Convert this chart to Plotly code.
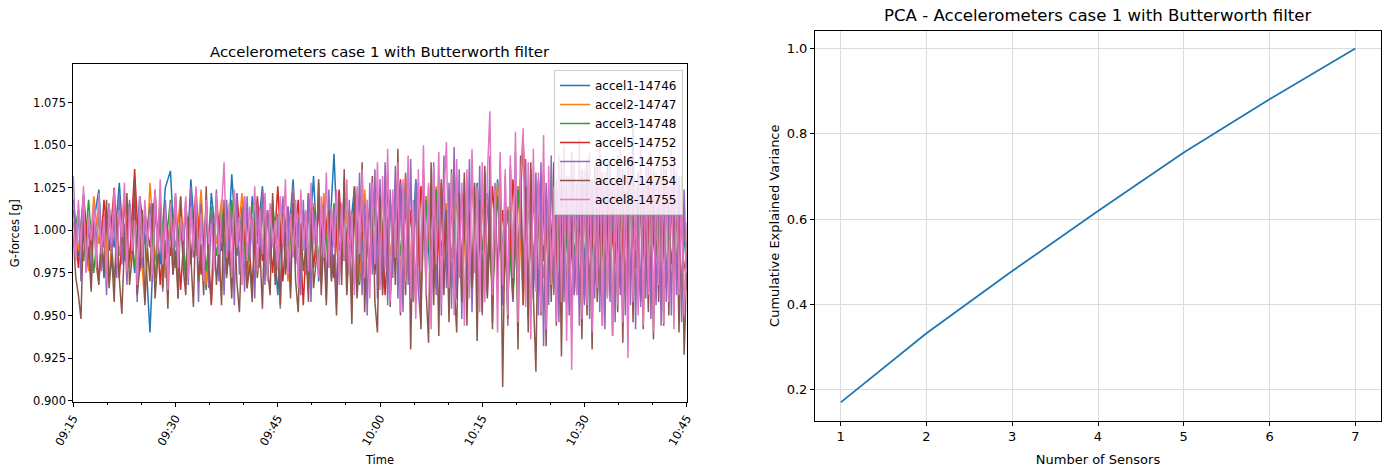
import pandas as pd
import plotly.graph_objects as go

# ---------------- data ----------------
series_names = ["accel1-14746", "accel2-14747", "accel3-14748", "accel5-14752",
                "accel6-14753", "accel7-14754", "accel8-14755"]
series_colors = ["#1f77b4", "#ff7f0e", "#2ca02c", "#d62728", "#9467bd", "#8c564b", "#e377c2"]

time_start = "2023-01-01 09:15:00"
time_end = "2023-01-01 10:45:00"

accel1 = [1.018, 0.985, 1.022, 0.978, 1.005, 1.024, 0.972, 1.010, 0.990, 1.028,
          0.982, 1.015, 0.975, 1.020, 0.995, 0.940, 1.012, 0.980, 1.025, 1.035,
          0.978, 1.008, 0.970, 1.030, 0.988, 1.016, 0.965, 1.022, 0.992, 1.010,
          0.976, 1.033, 0.985, 1.012, 0.968, 1.020, 0.996, 1.026, 0.974, 1.008,
          0.962, 1.018, 0.990, 1.030, 0.975, 1.012, 0.985, 1.032, 0.970, 1.015,
          0.988, 1.045, 0.972, 1.020, 0.995, 1.025, 0.968, 1.010, 0.982, 1.026,
          0.975, 1.018, 0.962, 1.028, 0.985, 1.012, 0.965, 1.030, 0.978, 1.020,
          0.960, 1.025, 0.988, 1.015, 0.970, 1.032, 0.982, 1.010, 0.964, 1.028,
          0.975, 1.022, 0.968, 1.030, 0.990, 1.012, 0.962, 1.026, 0.980, 1.018,
          0.966, 1.030, 0.985, 1.014, 0.970, 1.028, 0.978, 1.010, 0.962, 1.024,
          0.982, 1.030, 0.968, 1.016, 0.976, 1.026, 0.988, 1.012, 0.964, 1.030,
          0.978, 1.018, 0.970, 1.028, 0.985, 1.010, 0.966, 1.022, 0.980, 1.014,
          0.978]

accel2 = [1.005, 0.988, 1.015, 0.976, 1.020, 0.992, 1.010, 0.970, 1.018, 0.985,
          1.022, 0.978, 1.012, 0.995, 0.958, 1.028, 0.982, 1.016, 0.972, 1.008,
          0.990, 1.020, 0.975, 1.012, 0.985, 1.024, 0.968, 1.010, 0.992, 1.018,
          0.974, 1.014, 0.988, 1.022, 0.966, 1.008, 0.980, 1.020, 0.972, 1.012,
          0.984, 1.018, 0.970, 1.024, 0.990, 1.010, 0.965, 1.016, 0.978, 1.022,
          0.986, 1.012, 0.974, 1.020, 0.992, 1.015, 0.970, 1.024, 0.982, 1.010,
          0.968, 1.022, 0.985, 1.015, 0.972, 1.033, 0.980, 1.012, 0.962, 1.020,
          0.988, 1.026, 0.970, 1.016, 0.984, 1.030, 0.966, 1.012, 0.978, 1.024,
          0.990, 1.018, 0.964, 1.028, 0.982, 1.014, 0.970, 1.026, 0.956, 1.018,
          0.985, 1.022, 0.972, 1.010, 0.964, 1.028, 0.988, 1.016, 0.975, 1.024,
          0.958, 1.020, 0.984, 1.030, 0.970, 1.012, 0.980, 1.026, 0.966, 1.018,
          0.990, 1.022, 0.972, 1.015, 0.984, 1.028, 0.968, 1.012, 0.978, 1.020,
          0.985]

accel3 = [0.995, 1.012, 0.982, 1.018, 0.975, 1.008, 0.990, 1.015, 0.970, 1.010,
          0.985, 1.016, 0.978, 1.005, 0.992, 1.014, 0.972, 1.012, 0.988, 1.018,
          0.980, 1.010, 0.975, 1.016, 0.990, 1.008, 0.976, 1.014, 0.985, 1.012,
          0.972, 1.018, 0.986, 1.008, 0.978, 1.015, 0.992, 1.010, 0.974, 1.016,
          0.985, 1.012, 0.976, 1.018, 0.990, 1.008, 0.972, 1.014, 0.984, 1.010,
          0.978, 1.016, 0.988, 1.012, 0.975, 1.018, 0.990, 1.008, 0.976, 1.014,
          0.982, 1.020, 0.970, 1.012, 0.986, 1.022, 0.968, 1.015, 0.980, 1.018,
          0.974, 1.024, 0.985, 1.010, 0.966, 1.020, 0.980, 1.014, 0.972, 1.022,
          0.988, 1.016, 0.962, 1.020, 0.978, 1.012, 0.958, 1.024, 0.984, 1.018,
          0.970, 1.014, 0.982, 1.022, 0.966, 1.016, 0.976, 1.020, 0.986, 1.012,
          0.972, 1.024, 0.980, 1.014, 0.968, 1.018, 0.984, 1.010, 0.974, 1.022,
          0.982, 1.016, 0.970, 1.020, 0.986, 1.012, 0.976, 1.018, 0.980, 1.014,
          0.990]

accel5 = [1.012, 0.978, 1.020, 0.985, 1.008, 0.970, 1.018, 0.988, 1.025, 0.972,
          1.015, 0.982, 1.036, 0.976, 1.010, 0.990, 1.022, 0.968, 1.012, 0.985,
          1.020, 0.965, 1.016, 0.980, 1.024, 0.974, 1.010, 0.956, 1.018, 0.988,
          1.014, 0.970, 1.022, 0.984, 1.008, 0.966, 1.020, 0.982, 1.012, 0.975,
          1.026, 0.970, 1.014, 0.985, 1.018, 0.956, 1.022, 0.978, 1.010, 0.988,
          1.016, 0.972, 1.024, 0.982, 1.012, 0.968, 1.020, 0.986, 1.014, 0.974,
          1.024, 0.962, 1.018, 0.980, 1.030, 0.970, 1.012, 0.958, 1.026, 0.984,
          1.016, 0.966, 1.028, 0.976, 1.014, 0.960, 1.022, 0.982, 1.032, 0.970,
          1.018, 0.964, 1.026, 0.978, 1.012, 0.960, 1.030, 0.984, 1.055, 0.968,
          1.020, 0.962, 1.032, 0.976, 1.016, 0.958, 1.028, 0.980, 1.014, 0.965,
          1.026, 0.970, 1.018, 0.962, 1.030, 0.978, 1.014, 0.966, 1.024, 0.972,
          1.020, 0.958, 1.028, 0.976, 1.012, 0.964, 1.026, 0.980, 1.018, 0.970,
          0.986]

accel6 = [1.032, 0.988, 1.012, 0.970, 1.018, 0.982, 1.006, 0.966, 1.014, 0.990,
          1.020, 0.976, 1.008, 0.962, 1.016, 0.984, 1.010, 0.972, 1.022, 0.980,
          1.004, 0.968, 1.018, 0.986, 1.012, 0.958, 1.020, 0.978, 1.008, 0.990,
          1.016, 0.970, 1.024, 0.982, 1.010, 0.964, 1.018, 0.986, 1.006, 0.974,
          1.022, 0.960, 1.014, 0.980, 1.018, 0.968, 1.026, 0.984, 1.010, 0.958,
          1.016, 0.976, 1.020, 0.966, 1.012, 0.988, 1.024, 0.970, 1.008, 0.962,
          1.018, 0.980, 1.010, 0.956, 1.022, 0.974, 1.014, 0.964, 1.020, 0.984,
          1.008, 0.960, 1.016, 0.978, 1.024, 0.968, 1.012, 0.986, 1.018, 0.972,
          1.010, 0.954, 1.020, 0.976, 1.014, 0.966, 1.026, 0.980, 1.008, 0.962,
          1.018, 0.974, 1.022, 0.958, 1.012, 0.984, 1.028, 0.968, 1.016, 0.960,
          1.024, 0.972, 1.014, 0.956, 1.020, 0.980, 1.030, 0.964, 1.018, 0.958,
          1.026, 0.970, 1.034, 0.962, 1.016, 0.950, 1.028, 0.974, 1.036, 0.960,
          1.030, 0.966, 1.040, 0.956, 1.024, 0.972, 1.038, 0.960, 1.028, 0.952,
          1.034, 0.968, 1.042, 0.958, 1.030, 0.964, 0.945, 1.036, 0.970, 1.026,
          0.956, 1.040, 0.962, 1.032, 0.950, 1.044, 0.966, 1.028, 0.954, 1.049,
          0.960, 1.036, 0.948, 1.030, 0.970, 1.042, 0.952, 1.026, 0.964, 1.038,
          0.950, 1.034, 0.962, 1.044, 0.946, 1.028, 0.966, 1.040, 0.956, 1.032,
          0.944, 1.038, 0.958, 1.046, 0.952, 1.030, 0.964, 1.042, 0.948, 1.036,
          0.960, 1.034, 0.950, 1.040, 0.932, 1.028, 0.956, 1.044, 0.962, 1.030,
          0.946, 1.040, 0.958, 1.032, 0.950, 1.046, 0.962, 1.028, 0.944, 1.036,
          0.956, 1.042, 0.948, 1.030, 0.960, 1.038, 0.952, 1.034, 0.942, 1.040,
          0.958, 1.030, 0.946, 1.044, 0.962, 1.036, 0.950, 1.040, 0.956, 1.063,
          0.942, 1.034, 0.955, 1.028, 0.960, 1.042, 0.948, 1.036, 0.956, 1.030,
          0.944, 1.040, 0.958, 1.026, 0.950, 1.038, 0.962, 1.032, 0.946, 1.024,
          0.965]

accel7 = [0.995, 0.972, 0.962, 0.948, 1.006, 0.976, 0.990, 0.964, 1.012, 0.980,
          0.968, 0.998, 0.975, 1.018, 0.966, 0.986, 0.958, 1.008, 0.972, 0.951,
          0.992, 1.022, 0.968, 0.984, 1.030, 0.962, 0.978, 1.012, 0.956, 0.990,
          0.970, 1.016, 0.960, 0.982, 1.024, 0.966, 0.994, 0.954, 1.010, 0.974,
          0.988, 0.960, 1.020, 0.978, 0.962, 1.008, 0.984, 0.955, 1.014, 0.970,
          0.992, 0.962, 1.026, 0.976, 0.958, 1.004, 0.968, 0.990, 0.956, 1.018,
          0.974, 0.988, 0.960, 1.012, 0.970, 0.952, 0.996, 1.020, 0.966, 0.980,
          0.958, 1.006, 0.972, 0.990, 0.954, 1.014, 0.978, 0.962, 1.022, 0.968,
          0.986, 0.956, 1.010, 0.974, 0.994, 0.960, 1.016, 0.970, 0.952, 1.004,
          0.976, 0.990, 0.958, 1.024, 0.966, 0.982, 1.030, 0.962, 0.994, 0.956,
          1.012, 0.970, 0.986, 0.950, 1.020, 0.968, 1.036, 0.962, 0.992, 0.945,
          1.026, 0.960, 0.984, 1.040, 0.952, 1.004, 0.968, 1.032, 0.958, 0.940,
          1.020, 0.962, 0.990, 1.034, 0.955, 1.016, 0.968, 1.048, 0.950, 1.024,
          0.962, 1.036, 0.930, 1.008, 0.958, 1.028, 0.942, 1.032, 0.966, 0.934,
          1.040, 0.956, 1.018, 0.938, 1.030, 0.962, 1.012, 0.946, 1.036, 0.970,
          0.940, 1.022, 0.958, 1.034, 0.944, 1.010, 0.966, 1.028, 0.935, 1.018,
          0.952, 1.038, 0.960, 1.024, 0.942, 1.016, 0.968, 1.030, 0.908, 1.012,
          0.948, 1.036, 0.960, 1.020, 0.930, 1.044, 0.956, 1.026, 0.940, 1.040,
          0.962, 0.917, 1.028, 0.950, 1.034, 0.932, 1.018, 0.958, 1.040, 0.944,
          1.024, 0.926, 1.036, 0.956, 1.012, 0.940, 1.030, 0.962, 1.020, 0.936,
          1.034, 0.950, 1.022, 0.930, 1.038, 0.958, 1.016, 0.944, 1.028, 0.962,
          1.040, 0.938, 1.026, 0.952, 1.032, 0.934, 1.020, 0.956, 1.036, 0.946,
          1.024, 0.960, 1.030, 0.942, 1.018, 0.952, 1.034, 0.936, 1.028, 0.958,
          1.022, 0.944, 1.036, 0.950, 1.030, 0.962, 1.024, 0.940, 1.032, 0.927,
          0.975]

accel8 = [1.005, 0.982, 1.018, 0.990, 1.026, 0.975, 1.010, 0.994, 1.015, 0.978,
          1.022, 0.986, 1.008, 0.970, 1.016, 0.992, 1.024, 0.980, 1.012, 0.996,
          1.028, 0.976, 1.014, 0.988, 1.006, 0.968, 1.020, 0.984, 1.018, 0.992,
          1.010, 0.974, 1.024, 0.986, 1.030, 0.980, 1.012, 0.965, 1.016, 0.990,
          1.022, 0.978, 1.008, 0.994, 1.020, 0.972, 1.014, 0.988, 1.026, 0.982,
          1.010, 0.970, 1.018, 0.992, 1.004, 0.976, 1.022, 0.986, 1.012, 1.040,
          0.984, 1.016, 0.972, 1.024, 0.990, 1.008, 0.968, 1.020, 0.982, 1.014,
          0.994, 1.026, 0.976, 1.012, 0.986, 1.022, 0.970, 1.016, 0.990, 1.006,
          0.978, 1.020, 0.992, 1.030, 0.974, 1.010, 0.984, 1.018, 0.966, 1.024,
          0.988, 1.012, 0.976, 1.028, 0.992, 1.006, 0.972, 1.020, 0.984, 1.034,
          0.978, 1.014, 0.990, 1.024, 0.968, 1.016, 0.982, 1.030, 0.974, 1.010,
          0.962, 1.026, 0.986, 1.036, 0.972, 1.018, 0.960, 1.028, 0.980, 1.040,
          0.965, 1.032, 0.978, 1.048, 0.958, 1.024, 0.984, 1.040, 0.952, 1.030,
          0.970, 1.044, 0.960, 1.018, 0.948, 1.036, 0.976, 1.050, 0.962, 1.028,
          0.942, 1.038, 0.980, 1.046, 0.956, 1.020, 1.052, 0.966, 1.034, 0.950,
          1.042, 0.972, 1.028, 0.944, 1.036, 0.960, 1.048, 0.975, 1.026, 0.952,
          1.040, 0.958, 1.032, 1.070, 0.962, 1.024, 0.940, 1.046, 0.968, 1.036,
          0.950, 1.044, 0.972, 1.058, 0.946, 1.030, 1.060, 0.955, 1.040, 0.936,
          1.048, 0.964, 1.034, 0.952, 1.056, 0.942, 1.038, 0.968, 1.026, 0.946,
          1.044, 0.958, 1.050, 0.935, 1.032, 0.918, 1.040, 0.962, 1.054, 0.948,
          1.036, 0.956, 1.046, 0.940, 1.028, 0.966, 1.052, 0.944, 1.034, 0.960,
          1.042, 0.938, 1.030, 0.956, 1.048, 0.946, 1.036, 0.925, 1.044, 0.958,
          1.030, 0.950, 1.052, 0.944, 1.038, 0.962, 1.046, 0.940, 1.034, 0.968,
          1.040, 0.945, 1.032, 0.958, 1.050, 0.942, 1.036, 0.962, 1.024, 0.950,
          1.005]

pca_sensors = [1, 2, 3, 4, 5, 6, 7]
pca_cumvar = [0.170, 0.332, 0.478, 0.619, 0.756, 0.881, 1.000]

left_title = "Accelerometers case 1 with Butterworth filter"
right_title = "PCA - Accelerometers case 1 with Butterworth filter"

# ---------------- figure ----------------
all_series = [accel1, accel2, accel3, accel5, accel6, accel7, accel8]

FONT = "DejaVu Sans"
W, H = 1389, 469

fig = go.Figure()
for name, color, vals in zip(series_names, series_colors, all_series):
    t = pd.date_range(time_start, time_end, periods=len(vals))
    fig.add_trace(go.Scatter(x=t, y=vals, mode="lines", name=name,
                             line=dict(color=color, width=1.5),
                             xaxis="x", yaxis="y"))

fig.add_trace(go.Scatter(x=pca_sensors, y=pca_cumvar, mode="lines",
                         line=dict(color="#1f77b4", width=1.8),
                         showlegend=False, xaxis="x2", yaxis="y2"))


def px_x(p):
    return p / W


def px_y(p):
    return 1 - p / H


def axis_style(tick_size):
    return dict(showline=True, mirror=True, linecolor="black", linewidth=1,
                ticks="outside", tickcolor="black", ticklen=4,
                zeroline=False, automargin=False,
                tickfont=dict(family=FONT, size=tick_size, color="black"))


fig.update_layout(
    width=W, height=H,
    margin=dict(l=0, r=0, t=0, b=0),
    paper_bgcolor="white", plot_bgcolor="white",
    font=dict(family=FONT, color="black"),
    xaxis=dict(domain=[px_x(73.3), px_x(686.7)], anchor="y", type="date",
               range=[time_start, time_end],
               tickformat="%H:%M", dtick=15 * 60 * 1000, tick0=time_start,
               tickangle=-60, showgrid=False,
               minor=dict(dtick=5 * 60 * 1000, ticks="outside", ticklen=2,
                          tickcolor="black", showgrid=False),
               title=dict(text="Time", font=dict(size=11.5, family=FONT), standoff=8),
               **axis_style(11.5)),
    yaxis=dict(domain=[px_y(402), px_y(64.3)], anchor="x",
               range=[0.8992, 1.0976], tickformat=".3f", dtick=0.025, tick0=0.9,
               showgrid=False,
               title=dict(text="G-forces [g]", font=dict(size=11.5, family=FONT), standoff=11),
               **axis_style(11.5)),
    xaxis2=dict(domain=[px_x(815), px_x(1381)], anchor="y2",
                range=[0.7, 7.3], dtick=1, tick0=1,
                showgrid=True, gridcolor="#dcdcdc", gridwidth=1,
                title=dict(text="Number of Sensors", font=dict(size=13, family=FONT), standoff=11),
                **axis_style(13)),
    yaxis2=dict(domain=[px_y(420.7), px_y(30.7)], anchor="x2",
                range=[0.127, 1.042], dtick=0.2, tick0=0.2, tickformat=".1f",
                showgrid=True, gridcolor="#dcdcdc", gridwidth=1,
                title=dict(text="Cumulative Explained Variance", font=dict(size=13, family=FONT), standoff=4),
                **axis_style(13)),
    legend=dict(x=px_x(683), y=px_y(70), xanchor="right", yanchor="top",
                bgcolor="rgba(255,255,255,0.8)", bordercolor="#cccccc", borderwidth=1,
                font=dict(family=FONT, size=12, color="black"),
                itemwidth=30, tracegroupgap=0),
    annotations=[
        dict(text=left_title, x=px_x(380), y=px_y(52), xref="paper", yref="paper",
             xanchor="center", yanchor="middle", showarrow=False,
             font=dict(family=FONT, size=14.9, color="black")),
        dict(text=right_title, x=px_x(1098), y=px_y(16), xref="paper", yref="paper",
             xanchor="center", yanchor="middle", showarrow=False,
             font=dict(family=FONT, size=16.6, color="black")),
    ],
)

fig.write_html("out.html")
